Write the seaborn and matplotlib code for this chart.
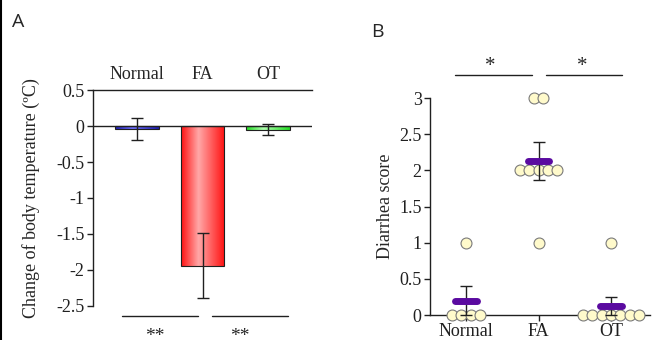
import numpy as np
import pandas as pd
import matplotlib
matplotlib.use("Agg")
import matplotlib.pyplot as plt
import seaborn as sns
from matplotlib.colors import LinearSegmentedColormap
from matplotlib.lines import Line2D

# panel A: change of body temperature
groups = ["Normal", "FA", "OT"]
temp_mean = [-0.04, -1.94, -0.05]
temp_err = [0.155, 0.45, 0.08]
bar_base = ["#1c1cb0", "#ff1010", "#22dd22"]
bar_light = ["#7070ff", "#ffa8a8", "#b0ffb0"]

# panel B: diarrhea score, individual animals
normal_scores = [0, 0, 0, 0, 1]
fa_scores = [3, 3, 2, 2, 2, 2, 2, 1]
ot_scores = [0, 0, 0, 0, 0, 0, 0, 1]
score_err = [0.2, 0.26, 0.13]

sns.set_theme(style="white")
plt.rcParams["font.family"] = ["Liberation Serif", "DejaVu Serif"]
plt.rcParams["axes.unicode_minus"] = False

fig = plt.figure(figsize=(6.54, 3.40), dpi=100)
fig.add_artist(Line2D([0.0015, 0.0015], [0, 1], color="black", lw=1.5))

# ---------- panel A ----------
axA = fig.add_axes([93 / 654, 34 / 340, 219 / 654, 216 / 340])
dfA = pd.DataFrame({"group": groups, "value": temp_mean})
sns.barplot(data=dfA, x="group", y="value", order=groups, width=0.67,
            color="white", edgecolor="#202020", linewidth=0.8,
            errorbar=None, ax=axA)
for patch, base, light in zip(axA.patches, bar_base, bar_light):
    cmap = LinearSegmentedColormap.from_list("g", [(0, base), (0.4, light), (1, base)])
    x0, y0 = patch.get_x(), patch.get_y()
    w, h = patch.get_width(), patch.get_height()
    grad = np.linspace(0, 1, 256).reshape(1, -1)
    im = axA.imshow(grad, aspect="auto", cmap=cmap,
                    extent=[x0, x0 + w, min(y0, y0 + h), max(y0, y0 + h)], zorder=1.5)
    im.set_clip_path(patch)
    patch.set_zorder(2)
    patch.set_facecolor("none")
axA.errorbar(range(len(groups)), temp_mean, yerr=temp_err, fmt="none",
             ecolor="#202020", elinewidth=1, capsize=4, capthick=1, zorder=3)
axA.set_xlim(-0.67, 2.67)
axA.set_ylim(-2.5, 0.5)
axA.axhline(0, color="#202020", lw=1, zorder=4)
axA.set_yticks([0.5, 0, -0.5, -1, -1.5, -2, -2.5])
axA.set_yticklabels(["0.5", "0", "-0.5", "-1", "-1.5", "-2", "-2.5"])
axA.set_xticks([])
axA.set_xlabel("")
axA.set_ylabel("Change of body temperature (\u00baC)", fontsize=13, labelpad=12)
for s in ["bottom", "right"]:
    axA.spines[s].set_visible(False)
for s in ["left", "top"]:
    axA.spines[s].set_color("#202020")
    axA.spines[s].set_linewidth(1)
axA.tick_params(axis="y", left=True, direction="out", length=4, width=1,
                labelsize=13, pad=2, colors="#202020")
for i, g in enumerate(groups):
    axA.text(i, 0.6, g, ha="center", va="bottom", fontsize=13, clip_on=False)
for xa, xb in [(-0.23, 0.93), (1.15, 2.31)]:
    axA.plot([xa, xb], [-2.64, -2.64], color="#202020", lw=1, clip_on=False)
for xs in [0.27, 1.57]:
    axA.text(xs, -2.8, "**", ha="center", va="top", fontsize=14, clip_on=False)

# ---------- panel B ----------
axB = fig.add_axes([430 / 654, 25 / 340, 220 / 654, 217 / 340])
dfB = pd.DataFrame({
    "group": ["Normal"] * len(normal_scores) + ["FA"] * len(fa_scores) + ["OT"] * len(ot_scores),
    "score": normal_scores + fa_scores + ot_scores,
})
# beeswarm-style spreading: points sharing a score sit side by side
dfB["gi"] = dfB["group"].map({g: i for i, g in enumerate(groups)})
rank = dfB.groupby(["group", "score"]).cumcount()
count = dfB.groupby(["group", "score"])["score"].transform("size")
dfB["xpos"] = dfB["gi"] + (rank - (count - 1) / 2) * 0.13
sns.scatterplot(data=dfB, x="xpos", y="score", s=62, color="#fffacb",
                edgecolor="#7a7a7a", linewidth=0.8, ax=axB, clip_on=False,
                zorder=3, legend=False)
means = dfB.groupby("gi")["score"].mean().values
axB.errorbar(range(len(groups)), means, yerr=score_err, fmt="none",
             ecolor="#202020", elinewidth=1, capsize=4, capthick=1, zorder=4,
             clip_on=False)
axB.hlines(means, np.arange(3) - 0.15, np.arange(3) + 0.15,
           color="#5a0aa0", lw=5, capstyle="round", zorder=5)
axB.set_xlim(-0.5, 2.54)
axB.set_ylim(0, 3)
axB.set_xticks(range(len(groups)))
axB.set_xticklabels(groups)
axB.set_yticks([0, 0.5, 1, 1.5, 2, 2.5, 3])
axB.set_yticklabels(["0", "0.5", "1", "1.5", "2", "2.5", "3"])
axB.set_xlabel("")
axB.set_ylabel("Diarrhea score", fontsize=13, labelpad=4)
for s in ["top", "right"]:
    axB.spines[s].set_visible(False)
for s in ["left", "bottom"]:
    axB.spines[s].set_color("#202020")
    axB.spines[s].set_linewidth(1)
axB.tick_params(axis="both", direction="out", length=4, width=1,
                labelsize=13, pad=2, colors="#202020", left=True, bottom=True)
axB.tick_params(axis="x", pad=2)
for xa, xb in [(-0.15, 0.91), (1.10, 2.15)]:
    axB.plot([xa, xb], [3.32, 3.32], color="#202020", lw=1, clip_on=False)
for xs in [0.33, 1.6]:
    axB.text(xs, 3.31, "*", ha="center", va="bottom", fontsize=15, clip_on=False)

fig.text(12 / 654, 1 - 22 / 340, "A", fontsize=14, family=["Open Sans", "DejaVu Sans"],
         ha="left", va="center")
fig.text(371 / 654, 1 - 32 / 340, "B", fontsize=14, family=["Open Sans", "DejaVu Sans"],
         ha="left", va="center")

fig.savefig("out.png", dpi=100)
